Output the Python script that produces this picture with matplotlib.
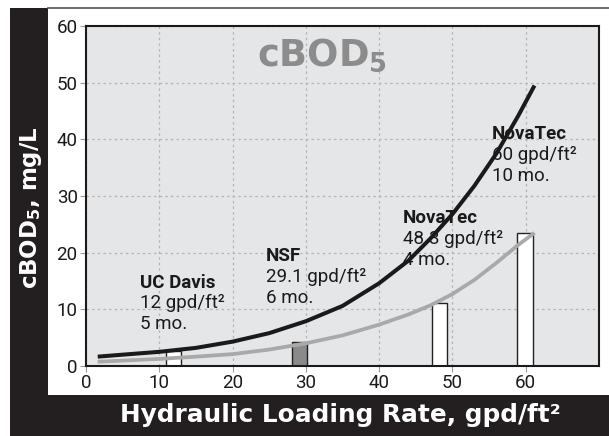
import matplotlib
matplotlib.use("Agg")
import matplotlib.pyplot as plt
from matplotlib.patches import Rectangle
from matplotlib.lines import Line2D

# --- data ---
bar_x = [11.9, 29.1, 48.2, 59.9]
bar_h = [2.6, 4.3, 11.2, 23.5]
bar_colors = ["white", "#8a8a8a", "white", "white"]

black_x = [1.6, 5, 10, 15, 20, 25, 30, 35, 40, 44, 47, 50, 53, 56, 59, 61.2]
black_y = [1.65, 2.0, 2.5, 3.2, 4.3, 5.8, 7.9, 10.6, 14.6, 18.6, 22.5, 26.8, 31.8, 37.5, 44.2, 49.5]

gray_x = [1.6, 5, 10, 15, 20, 25, 30, 35, 40, 44, 47, 50, 53, 56, 59, 61.2]
gray_y = [0.76, 0.95, 1.25, 1.65, 2.1, 2.9, 4.0, 5.4, 7.3, 9.1, 10.7, 12.7, 15.2, 18.2, 21.4, 23.5]

# annotation: (left x, top of header, header, line 2, line 3)
notes = [
    (7.4, 16.2, "UC Davis", "12 gpd/ft\u00b2", "5 mo."),
    (24.5, 20.8, "NSF", "29.1 gpd/ft\u00b2", "6 mo."),
    (43.2, 27.6, "NovaTec", "48.3 gpd/ft\u00b2", "4 mo."),
    (55.4, 42.35, "NovaTec", "60 gpd/ft\u00b2", "10 mo."),
]

x_ticks = [0, 10, 20, 30, 40, 50, 60]
y_ticks = [0, 10, 20, 30, 40, 50, 60]

narrow = ["Roboto", "DejaVu Sans"]
wide = ["DejaVu Sans"]
plt.rcParams["mathtext.fontset"] = "dejavusans"

W, H = 609, 436
fig = plt.figure(figsize=(W / 100, H / 100), dpi=100)
fig.patch.set_facecolor("white")

band = "#231f20"
# left black band, bottom black band, thin top line
fig.patches.append(Rectangle((10 / W, 0), 38 / W, 1 - 8 / H, transform=fig.transFigure,
                             facecolor=band, edgecolor="none", zorder=0))
fig.patches.append(Rectangle((10 / W, 0), 1, 41 / H, transform=fig.transFigure,
                             facecolor=band, edgecolor="none", zorder=0))
fig.lines.append(Line2D([48 / W, 1], [1 - 8.5 / H, 1 - 8.5 / H], transform=fig.transFigure,
                        color="#555555", lw=1.2))

ax = fig.add_axes([86 / W, 70 / H, 513 / W, 340 / H])
ax.set_facecolor("#e5e6e8")
ax.set_xlim(0, 70)
ax.set_ylim(0, 60)

ax.grid(True, color="#b4b4b4", linestyle=(0, (2, 2.5)), linewidth=0.9)
ax.set_axisbelow(True)

ax.bar(bar_x, bar_h, width=2.1, color=bar_colors, edgecolor="#222222", linewidth=1.0, zorder=2)
ax.plot(gray_x, gray_y, color="#a9a9a9", lw=2.7, solid_capstyle="butt", zorder=3)
ax.plot(black_x, black_y, color="#1a1a1a", lw=2.9, solid_capstyle="butt", zorder=4)

cap = 2.35   # cap height in data units
step = 3.7   # line spacing in data units
for x, top, head, l2, l3 in notes:
    base = top - cap
    ax.text(x, base, head, family=narrow, fontweight="bold", fontsize=13.5, va="baseline",
            ha="left", color="#1a1a1a", zorder=5)
    ax.text(x, base - step, l2, family=narrow, fontsize=13.5, va="baseline", ha="left",
            color="#1a1a1a", zorder=5)
    ax.text(x, base - 2 * step, l3, family=narrow, fontsize=13.5, va="baseline", ha="left",
            color="#1a1a1a", zorder=5)

ax.text(32.2, 54.9, r"$\mathbf{cBOD_5}$", fontsize=26.5, color="#8c8c8c", ha="center", va="center")

ax.set_xticks(x_ticks)
ax.set_yticks(y_ticks)
ax.set_xticklabels([str(t) for t in x_ticks], family=narrow, fontsize=13.5)
ax.set_yticklabels([str(t) for t in y_ticks], family=narrow, fontsize=13.5)
ax.tick_params(axis="both", length=4, width=0.8, color="#9a9a9a", pad=2, labelcolor="#1a1a1a")

for s in ax.spines.values():
    s.set_color("#1a1a1a")
    s.set_linewidth(1.5)

fig.text(340 / W, 1 - 415 / H, "Hydraulic Loading Rate, gpd/ft\u00b2", family=wide,
         fontweight="bold", fontsize=17.8, color="white", ha="center", va="center")
fig.text(31 / W, 1 - 208 / H, r"cBOD$_\mathbf{5}$, mg/L", family=wide, fontweight="bold",
         fontsize=16.5, color="white", rotation=90, ha="center", va="center")

fig.savefig("out.png", dpi=100, facecolor=fig.get_facecolor())
